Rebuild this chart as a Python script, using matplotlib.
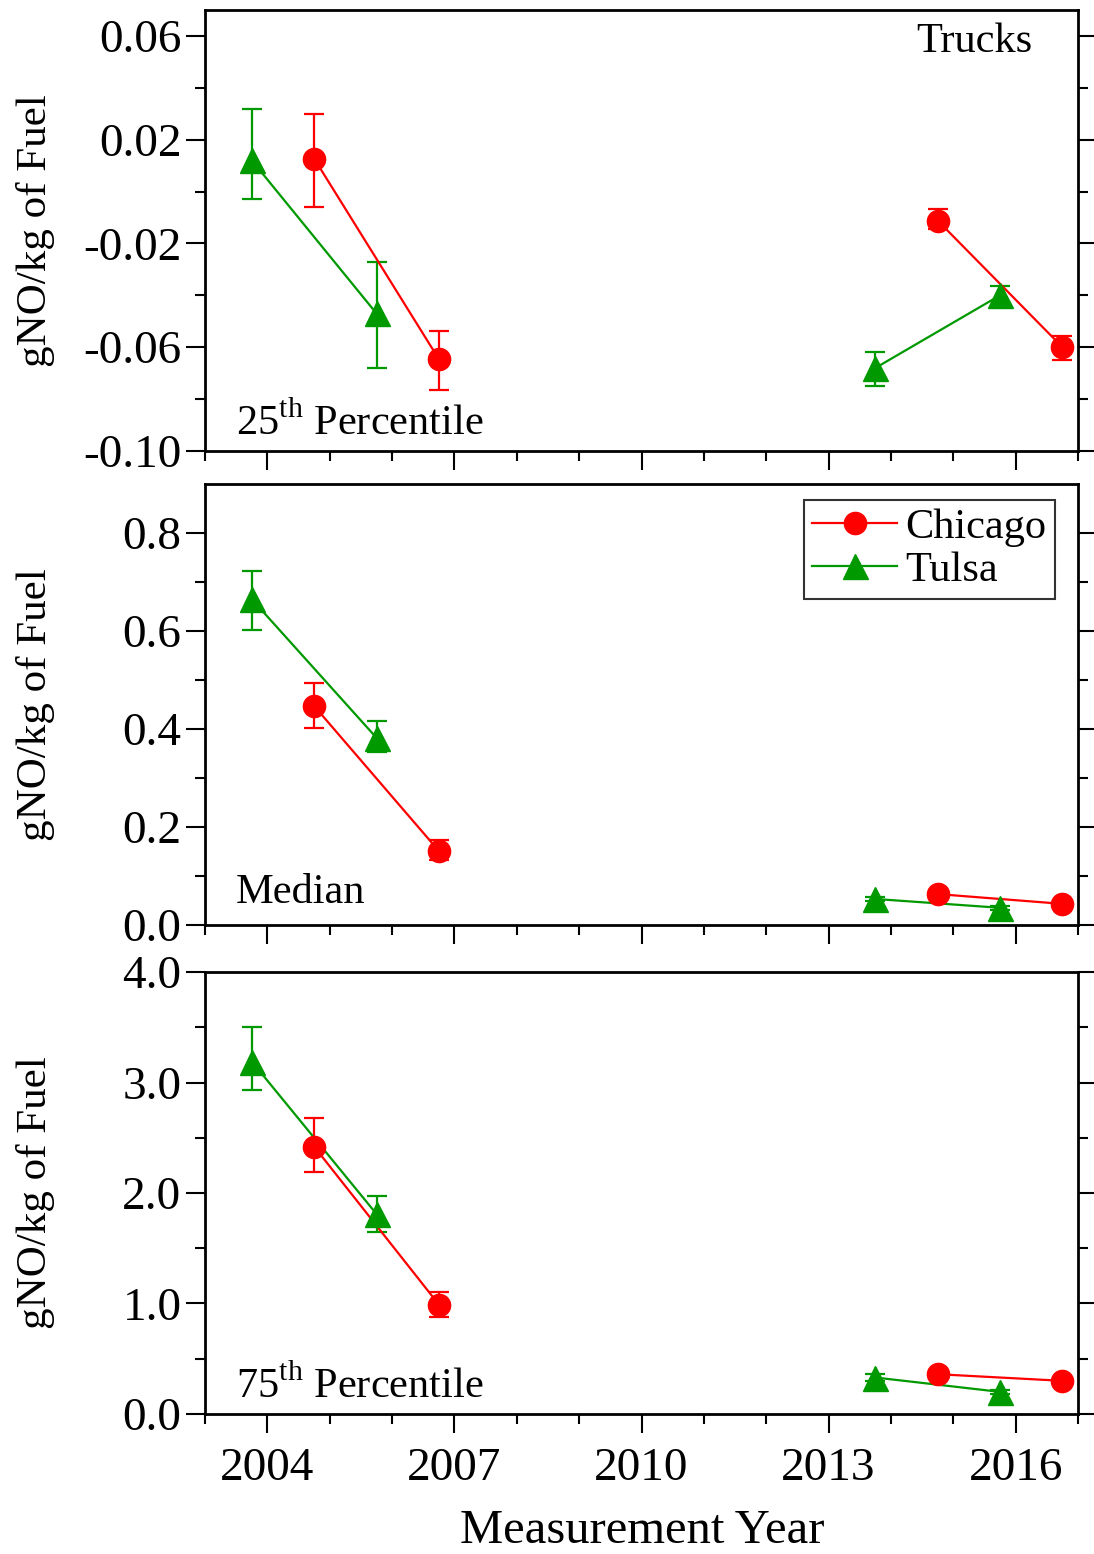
import matplotlib
matplotlib.use("Agg")
import matplotlib.pyplot as plt
import numpy as np

plt.rcParams["font.family"] = ["Liberation Serif", "DejaVu Serif"]
plt.rcParams["mathtext.fontset"] = "custom"
plt.rcParams["mathtext.rm"] = "Liberation Serif"

# ---- data ----
years_tulsa = [2003.75, 2005.75, 2013.75, 2015.75]
years_chicago = [2004.75, 2006.75, 2014.75, 2016.75]

# 25th percentile
p25_tulsa = [0.012, -0.047, -0.068, -0.040]
p25_tulsa_lo = [-0.003, -0.068, -0.075, -0.044]
p25_tulsa_hi = [0.032, -0.027, -0.062, -0.0365]
p25_chicago = [0.0127, -0.0646, -0.0112, -0.060]
p25_chicago_lo = [-0.0058, -0.0765, -0.0146, -0.065]
p25_chicago_hi = [0.030, -0.0538, -0.0069, -0.0558]

# median
med_tulsa = [0.665, 0.382, 0.053, 0.035]
med_tulsa_lo = [0.602, 0.353, 0.048, 0.031]
med_tulsa_hi = [0.722, 0.416, 0.058, 0.039]
med_chicago = [0.447, 0.151, 0.063, 0.043]
med_chicago_lo = [0.402, 0.133, 0.058, 0.039]
med_chicago_hi = [0.494, 0.173, 0.068, 0.047]

# 75th percentile
p75_tulsa = [3.19, 1.81, 0.33, 0.20]
p75_tulsa_lo = [2.93, 1.65, 0.30, 0.18]
p75_tulsa_hi = [3.50, 1.97, 0.36, 0.22]
p75_chicago = [2.42, 0.99, 0.36, 0.30]
p75_chicago_lo = [2.19, 0.88, 0.33, 0.28]
p75_chicago_hi = [2.68, 1.10, 0.39, 0.32]

RED = "#ff0000"
GREEN = "#009900"
TXT = 30.5

fig = plt.figure(figsize=(10.94, 15.54), dpi=100)
left, width = 0.1874, 0.798
ax1 = fig.add_axes([left, 0.7098, width, 0.2838])
ax2 = fig.add_axes([left, 0.4048, width, 0.2837])
ax3 = fig.add_axes([left, 0.0901, width, 0.2844])


def draw(ax, x, y, lo, hi, color, marker, ms, label):
    x = np.array(x)
    y = np.array(y)
    err = [y - np.array(lo), np.array(hi) - y]
    ax.errorbar(x, y, yerr=err, fmt="none", ecolor=color, elinewidth=1.6,
                capsize=7, capthick=1.6, zorder=2)
    # two separate campaigns, lines only within each
    ax.plot(x[:2], y[:2], color=color, lw=1.6, zorder=3)
    ax.plot(x[2:], y[2:], color=color, lw=1.6, zorder=3)
    ax.plot(x, y, ls="none", marker=marker, ms=ms, color=color, zorder=4)
    # legend handle
    ax.plot([], [], color=color, lw=1.6, marker=marker, ms=ms, label=label)


draw(ax1, years_chicago, p25_chicago, p25_chicago_lo, p25_chicago_hi, RED, "o", 16, "Chicago")
draw(ax1, years_tulsa, p25_tulsa, p25_tulsa_lo, p25_tulsa_hi, GREEN, "^", 18, "Tulsa")
draw(ax2, years_chicago, med_chicago, med_chicago_lo, med_chicago_hi, RED, "o", 16, "Chicago")
draw(ax2, years_tulsa, med_tulsa, med_tulsa_lo, med_tulsa_hi, GREEN, "^", 18, "Tulsa")
draw(ax3, years_chicago, p75_chicago, p75_chicago_lo, p75_chicago_hi, RED, "o", 16, "Chicago")
draw(ax3, years_tulsa, p75_tulsa, p75_tulsa_lo, p75_tulsa_hi, GREEN, "^", 18, "Tulsa")

# axis setup
ax1.set_ylim(-0.10, 0.07)
ax1.set_yticks([-0.10, -0.06, -0.02, 0.02, 0.06])
ax1.set_yticklabels(["-0.10", "-0.06", "-0.02", "0.02", "0.06"])
ax1.set_yticks([-0.08, -0.04, 0.0, 0.04], minor=True)

ax2.set_ylim(0, 0.9)
ax2.set_yticks([0.0, 0.2, 0.4, 0.6, 0.8])
ax2.set_yticklabels(["0.0", "0.2", "0.4", "0.6", "0.8"])
ax2.set_yticks([0.1, 0.3, 0.5, 0.7], minor=True)

ax3.set_ylim(0, 4.0)
ax3.set_yticks([0.0, 1.0, 2.0, 3.0, 4.0])
ax3.set_yticklabels(["0.0", "1.0", "2.0", "3.0", "4.0"])
ax3.set_yticks([0.5, 1.5, 2.5, 3.5], minor=True)

for ax in (ax1, ax2, ax3):
    ax.set_xlim(2003, 2017)
    ax.set_xticks([2004, 2007, 2010, 2013, 2016])
    ax.set_xticks(np.arange(2003, 2018), minor=True)
    for s in ax.spines.values():
        s.set_linewidth(2)
    ax.tick_params(which="both", direction="out", left=True, right=True,
                   bottom=True, top=False, width=1.5)
    ax.tick_params(which="major", length=14, labelsize=34, pad=3)
    ax.tick_params(which="minor", length=7)
    ax.set_ylabel("gNO/kg of Fuel", fontsize=31)
    ax.yaxis.set_label_coords(-0.172, 0.5)

ax1.tick_params(labelbottom=False)
ax2.tick_params(labelbottom=False)
ax3.tick_params(axis="x", pad=10)

# panel annotations
ax1.text(0.948, 0.927, "Trucks", transform=ax1.transAxes, fontsize=TXT,
         ha="right", va="center")
ax1.text(0.035, 0.036, r"25$^{\mathrm{th}}$ Percentile", transform=ax1.transAxes,
         fontsize=TXT, ha="left", va="baseline")
ax2.text(0.035, 0.05, "Median", transform=ax2.transAxes, fontsize=TXT,
         ha="left", va="baseline")
ax3.text(0.035, 0.036, r"75$^{\mathrm{th}}$ Percentile", transform=ax3.transAxes,
         fontsize=TXT, ha="left", va="baseline")

leg = ax2.legend(loc="upper right", bbox_to_anchor=(0.9737, 0.9637),
                 fontsize=TXT, frameon=True, fancybox=False, handlelength=2.0,
                 handletextpad=0.2, borderpad=0.2, labelspacing=0.1,
                 borderaxespad=0)
leg.get_frame().set_edgecolor("black")
leg.get_frame().set_linewidth(1.5)

fig.text(0.587, 0.007, "Measurement Year", fontsize=35, ha="center", va="baseline")

fig.savefig("out.png", dpi=100)
